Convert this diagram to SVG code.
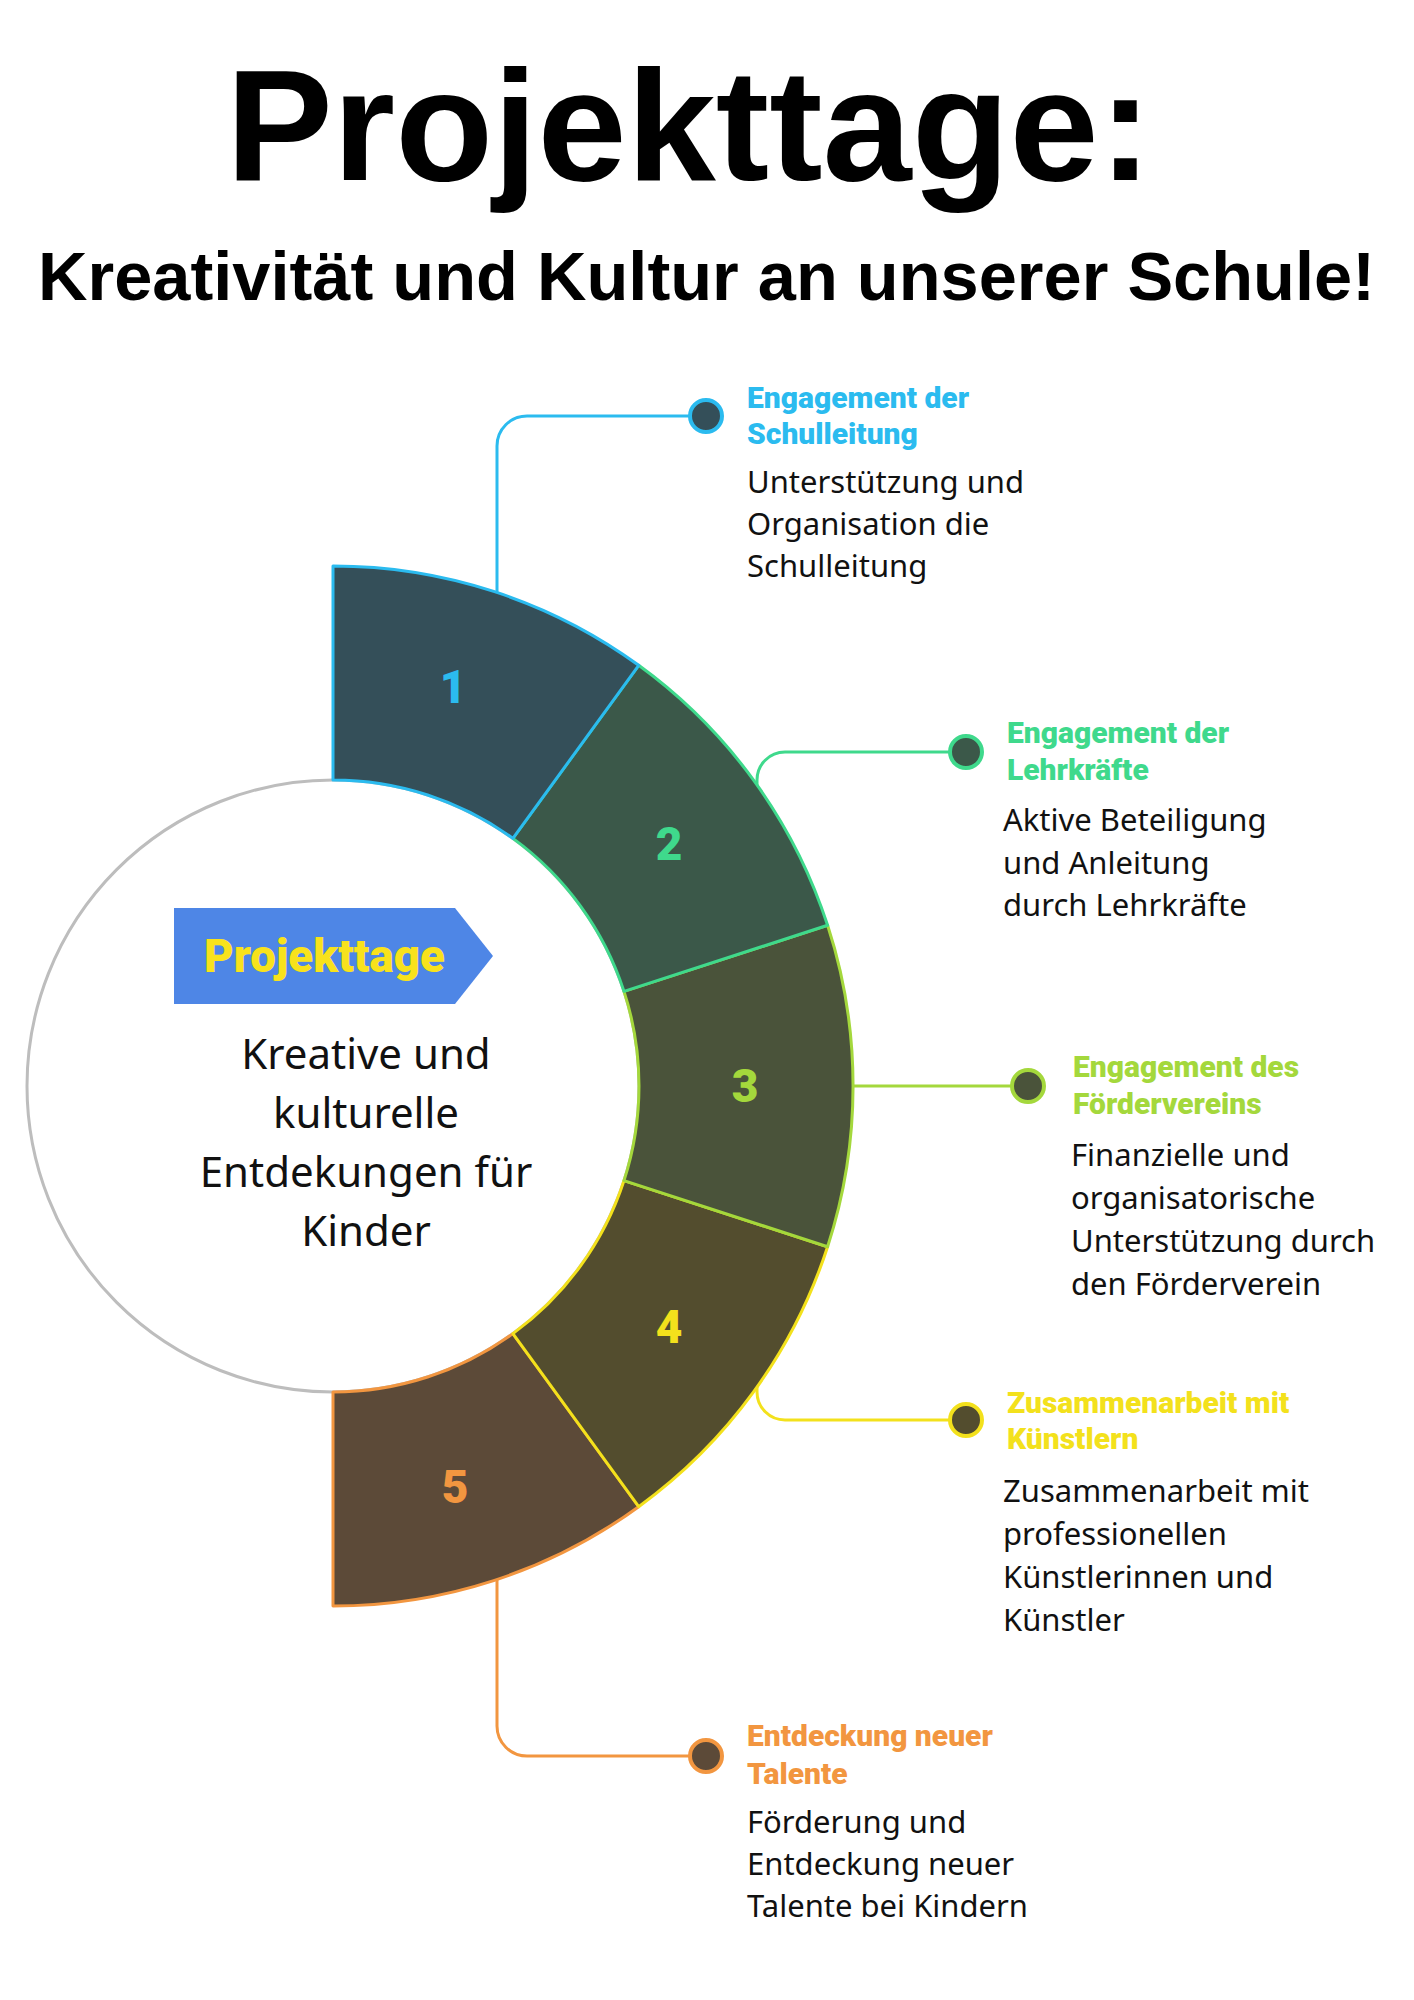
<svg xmlns="http://www.w3.org/2000/svg" width="1414" height="2000" viewBox="0 0 1414 2000">
<style>
.title{font-family:"Liberation Sans",Arial,sans-serif;font-weight:bold;fill:#000}
.head{font-family:Roboto,"Liberation Sans",sans-serif;font-weight:900;font-size:30px}
.body{font-family:"Noto Sans","Liberation Sans",sans-serif;font-size:31px;fill:#111}
.center{font-family:"Noto Sans","Liberation Sans",sans-serif;font-size:42px;fill:#111;text-anchor:middle}
.num{font-family:Roboto,"Liberation Sans",sans-serif;font-weight:900;font-size:46px;text-anchor:middle}
.seg{stroke-width:3;stroke-linejoin:round}
.conn{fill:none;stroke-width:3}
.dot{stroke-width:4}
</style>
<rect width="1414" height="2000" fill="#fff"/>
<text class="title" x="226" y="180" font-size="158" textLength="926" lengthAdjust="spacingAndGlyphs">Projekttage:</text>
<text class="title" x="38" y="300" font-size="68" textLength="1337" lengthAdjust="spacingAndGlyphs">Kreativität und Kultur an unserer Schule!</text>

<g id="connectors">
<path class="conn" stroke="#2bbbef" d="M497 610 V446 A30 30 0 0 1 527 416 H706"/>
<path class="conn" stroke="#3fd98c" d="M757 800 V780 A28 28 0 0 1 785 752 H966"/>
<path class="conn" stroke="#a4d83c" d="M840 1086 H1028"/>
<path class="conn" stroke="#f3e11c" d="M757 1372 V1392 A28 28 0 0 0 785 1420 H966"/>
<path class="conn" stroke="#f29640" d="M497 1562 V1726 A30 30 0 0 0 527 1756 H706"/>
</g>

<g id="center">
<circle cx="333" cy="1086" r="306" fill="#fff" stroke="#bdbdbd" stroke-width="3"/>
<polygon points="174,908 455,908 493,956 455,1004 174,1004" fill="#4e86e6"/>
<text x="204" y="972" font-family="Roboto,'Liberation Sans',sans-serif" font-weight="900" font-size="47" fill="#f8e21c" textLength="241" lengthAdjust="spacingAndGlyphs">Projekttage</text>
<text class="center" x="366" y="1069">Kreative und</text>
<text class="center" x="366" y="1128">kulturelle</text>
<text class="center" x="366" y="1187">Entdekungen für</text>
<text class="center" x="366" y="1246">Kinder</text>
</g>

<g id="seg5">
<path class="seg" fill="#5c4a38" stroke="#f29640" d="M638.7,1506.7 A520,520 0 0 1 333,1606 L333,1392 A306,306 0 0 0 512.9,1333.6 Z"/>
<text class="num" x="455" y="1503" fill="#f29640">5</text>
</g>
<g id="seg4">
<path class="seg" fill="#534d2e" stroke="#f3e11c" d="M827.6,1246.7 A520,520 0 0 1 638.7,1506.7 L512.9,1333.6 A306,306 0 0 0 624.0,1180.6 Z"/>
<text class="num" x="669" y="1343" fill="#f3e11c">4</text>
</g>
<g id="seg3">
<path class="seg" fill="#4a533a" stroke="#a4d83c" d="M827.6,925.3 A520,520 0 0 1 827.6,1246.7 L624.0,1180.6 A306,306 0 0 0 624.0,991.4 Z"/>
<text class="num" x="745" y="1102" fill="#a4d83c">3</text>
</g>
<g id="seg2">
<path class="seg" fill="#3b5849" stroke="#3fd98c" d="M638.7,665.3 A520,520 0 0 1 827.6,925.3 L624.0,991.4 A306,306 0 0 0 512.9,838.4 Z"/>
<text class="num" x="669" y="860" fill="#3fd98c">2</text>
</g>
<g id="seg1">
<path class="seg" fill="#344f59" stroke="#2bbbef" d="M333,566 A520,520 0 0 1 638.7,665.3 L512.9,838.4 A306,306 0 0 0 333,780 Z"/>
<text class="num" x="453" y="703" fill="#2bbbef">1</text>
</g>

<g id="item1">
<circle class="dot" cx="706" cy="416" r="16" fill="#344f59" stroke="#2bbbef"/>
<text class="head" fill="#2bbbef"><tspan x="747" y="408">Engagement der</tspan><tspan x="747" y="444">Schulleitung</tspan></text>
<text class="body"><tspan x="747" y="493">Unterstützung und</tspan><tspan x="747" y="535">Organisation die</tspan><tspan x="747" y="577">Schulleitung</tspan></text>
</g>
<g id="item2">
<circle class="dot" cx="966" cy="752" r="16" fill="#3b5849" stroke="#3fd98c"/>
<text class="head" fill="#3fd98c"><tspan x="1007" y="743">Engagement der</tspan><tspan x="1007" y="780">Lehrkräfte</tspan></text>
<text class="body"><tspan x="1003" y="831">Aktive Beteiligung</tspan><tspan x="1003" y="874">und Anleitung</tspan><tspan x="1003" y="916">durch Lehrkräfte</tspan></text>
</g>
<g id="item3">
<circle class="dot" cx="1028" cy="1086" r="16" fill="#4a533a" stroke="#a4d83c"/>
<text class="head" fill="#a4d83c"><tspan x="1073" y="1077">Engagement des</tspan><tspan x="1073" y="1114">Fördervereins</tspan></text>
<text class="body"><tspan x="1071" y="1166">Finanzielle und</tspan><tspan x="1071" y="1209">organisatorische</tspan><tspan x="1071" y="1252">Unterstützung durch</tspan><tspan x="1071" y="1295">den Förderverein</tspan></text>
</g>
<g id="item4">
<circle class="dot" cx="966" cy="1420" r="16" fill="#534d2e" stroke="#f3e11c"/>
<text class="head" fill="#f3e11c"><tspan x="1007" y="1413">Zusammenarbeit mit</tspan><tspan x="1007" y="1449">Künstlern</tspan></text>
<text class="body"><tspan x="1003" y="1502">Zusammenarbeit mit</tspan><tspan x="1003" y="1545">professionellen</tspan><tspan x="1003" y="1588">Künstlerinnen und</tspan><tspan x="1003" y="1631">Künstler</tspan></text>
</g>
<g id="item5">
<circle class="dot" cx="706" cy="1756" r="16" fill="#5c4a38" stroke="#f29640"/>
<text class="head" fill="#f29640"><tspan x="747" y="1746">Entdeckung neuer</tspan><tspan x="747" y="1784">Talente</tspan></text>
<text class="body"><tspan x="747" y="1833">Förderung und</tspan><tspan x="747" y="1875">Entdeckung neuer</tspan><tspan x="747" y="1917">Talente bei Kindern</tspan></text>
</g>
</svg>
